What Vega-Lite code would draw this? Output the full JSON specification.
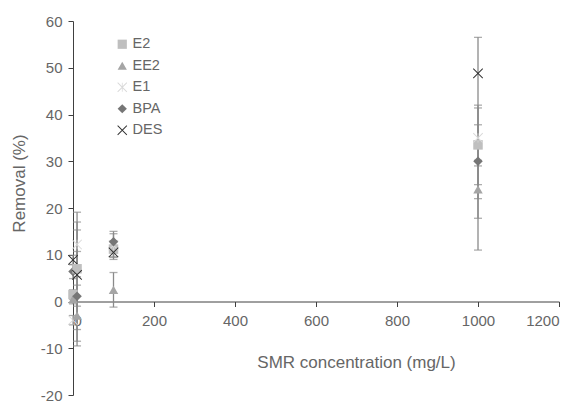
{
  "$schema": "https://vega.github.io/schema/vega-lite/v6.json",
  "width": 486,
  "height": 374,
  "autosize": "none",
  "padding": {"left": 73, "top": 21, "right": 27, "bottom": 8},
  "background": "white",
  "config": {
    "view": {"stroke": null},
    "font": "Liberation Sans",
    "axis": {
      "grid": false,
      "titleFontWeight": "normal",
      "titleFontSize": 17,
      "titleColor": "#666666",
      "labelColor": "#666666",
      "labelFontSize": 15,
      "domainColor": "#404040",
      "tickColor": "#404040",
      "tickSize": 5,
      "labelExpr": "'' + datum.value"
    }
  },
  "data": {
    "values": [
      {"conc": 0, "compound": "E2", "removal": 1.5, "lo": 0.5, "hi": 2.5},
      {"conc": 0, "compound": "EE2", "removal": 0.5, "lo": -0.5, "hi": 1.5},
      {"conc": 0, "compound": "E1", "removal": -4.0, "lo": -5.0, "hi": -3.0},
      {"conc": 0, "compound": "BPA", "removal": 6.4, "lo": 4.9, "hi": 7.9},
      {"conc": 0, "compound": "DES", "removal": 8.9, "lo": 7.9, "hi": 9.9},
      {"conc": 10, "compound": "E2", "removal": 7.0, "lo": -1.0, "hi": 15.3},
      {"conc": 10, "compound": "EE2", "removal": -3.0, "lo": -9.5, "hi": 3.5},
      {"conc": 10, "compound": "E1", "removal": 12.2, "lo": 5.3, "hi": 19.1},
      {"conc": 10, "compound": "BPA", "removal": 1.1, "lo": -8.5, "hi": 10.7},
      {"conc": 10, "compound": "DES", "removal": 5.7, "lo": -6.0, "hi": 17.0},
      {"conc": 100, "compound": "E2", "removal": 11.2, "lo": 9.5, "hi": 13.0},
      {"conc": 100, "compound": "EE2", "removal": 2.5, "lo": -1.2, "hi": 6.2},
      {"conc": 100, "compound": "E1", "removal": 12.0, "lo": 9.5, "hi": 14.5},
      {"conc": 100, "compound": "BPA", "removal": 12.8, "lo": 10.6, "hi": 15.0},
      {"conc": 100, "compound": "DES", "removal": 10.5, "lo": 9.0, "hi": 12.0},
      {"conc": 1000, "compound": "E2", "removal": 33.5, "lo": 25.0, "hi": 42.0},
      {"conc": 1000, "compound": "EE2", "removal": 24.0, "lo": 17.8, "hi": 30.2},
      {"conc": 1000, "compound": "E1", "removal": 35.0, "lo": 29.0, "hi": 41.4},
      {"conc": 1000, "compound": "BPA", "removal": 30.0, "lo": 22.0, "hi": 37.8},
      {"conc": 1000, "compound": "DES", "removal": 48.8, "lo": 11.0, "hi": 56.5}
    ]
  },
  "encoding": {
    "x": {
      "field": "conc",
      "type": "quantitative",
      "scale": {"domain": [0, 1200], "nice": false},
      "axis": {
        "values": [0, 200, 400, 600, 800, 1000, 1200],
        "offset": -93.5,
        "title": "SMR concentration (mg/L)",
        "titleX": 283,
        "titleY": 53,
        "labelPadding": 7
      }
    }
  },
  "layer": [
    {
      "mark": {"type": "errorbar", "ticks": {"size": 8}, "color": "#8a8a8a", "thickness": 1.3},
      "encoding": {
        "y": {
          "field": "lo",
          "type": "quantitative",
          "scale": {"domain": [-20, 60], "nice": false},
          "axis": {
            "values": [-20, -10, 0, 10, 20, 30, 40, 50, 60],
            "title": "Removal (%)",
            "titleX": -45,
            "titleY": 162,
            "labelPadding": 6
          }
        },
        "y2": {"field": "hi"}
      }
    },
    {
      "mark": {"type": "point", "filled": true, "size": 90, "opacity": 1},
      "encoding": {
        "y": {
          "field": "removal",
          "type": "quantitative",
          "scale": {"domain": [-20, 60], "nice": false},
          "axis": {
            "values": [-20, -10, 0, 10, 20, 30, 40, 50, 60],
            "title": "Removal (%)",
            "titleX": -45,
            "titleY": 162,
            "labelPadding": 6
          }
        },
        "color": {
          "field": "compound",
          "type": "nominal",
          "scale": {
            "domain": ["E2", "EE2", "E1", "BPA", "DES"],
            "range": ["#bfbfbf", "#a5a5a5", "#d9d9d9", "#767676", "#303030"]
          },
          "legend": {
            "title": null,
            "orient": "none",
            "legendX": 42,
            "legendY": 16,
            "labelFontSize": 14.5,
            "labelColor": "#666666",
            "rowPadding": 6.5,
            "labelOffset": 3,
            "symbolSize": 85
          }
        },
        "shape": {
          "field": "compound",
          "type": "nominal",
          "scale": {
            "domain": ["E2", "EE2", "E1", "BPA", "DES"],
            "range": [
              "square",
              "triangle-up",
              "M-0.93,-1.07L1.07,0.93L0.93,1.07L-1.07,-0.93Z M-0.93,1.07L-1.07,0.93L0.93,-1.07L1.07,-0.93Z M-0.08,-1L0.08,-1L0.08,1L-0.08,1Z",
              "diamond",
              "M-0.93,-1.07L1.07,0.93L0.93,1.07L-1.07,-0.93Z M-0.93,1.07L-1.07,0.93L0.93,-1.07L1.07,-0.93Z"
            ]
          },
          "legend": {
            "title": null,
            "orient": "none",
            "legendX": 42,
            "legendY": 16,
            "labelFontSize": 14.5,
            "labelColor": "#666666",
            "rowPadding": 6.5,
            "labelOffset": 3,
            "symbolSize": 85
          }
        }
      }
    }
  ]
}
